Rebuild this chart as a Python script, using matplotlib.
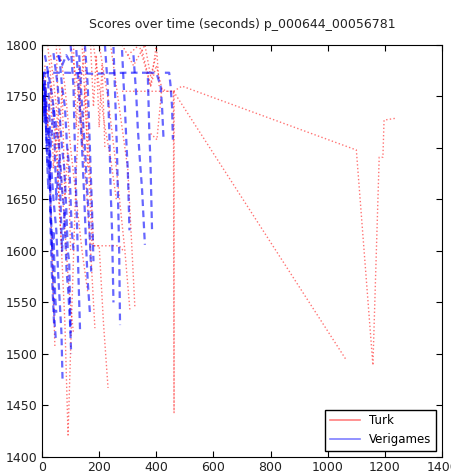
import matplotlib
matplotlib.use("Agg")
import matplotlib.pyplot as plt
from matplotlib.lines import Line2D

title = "Scores over time (seconds) p_000644_00056781"
series_names = ["Turk", "Verigames"]
x_ticks = [0, 200, 400, 600, 800, 1000, 1200, 1400]
y_ticks = [1400, 1450, 1500, 1550, 1600, 1650, 1700, 1750, 1800]

# Verigames sessions (time in seconds, score)
blue_times = [
    [0, 3, 6, 9, 12, 16],
    [0, 6, 10, 16, 22, 26, 30, 34, 38, 42],
    [0, 8, 14, 20, 26, 30, 36, 40, 46, 50],
    [2, 10, 18, 24, 30, 36, 40, 44, 48],
    [0, 20, 30, 40, 50, 56, 62, 68, 72],
    [10, 30, 50, 60, 70, 78, 86, 92, 98, 102],
    [40, 55, 62, 70, 78, 85, 90, 95, 100],
    [60, 70, 80, 88, 96, 104, 110],
    [100, 110, 115, 120, 125, 128, 133],
    [120, 130, 140, 148, 155, 160, 168],
    [130, 140, 150, 158, 166, 172],
    [150, 160, 165, 170, 175, 180],
    [220, 230, 235, 240, 245, 250],
    [250, 256, 262, 266, 270, 273],
    [280, 286, 290, 296, 300, 306],
    [320, 330, 335, 342, 350, 360],
    [0, 90, 180, 290, 370, 375, 380, 385],
    [370, 400, 415, 420, 425],
    [430, 445, 450, 455, 458],
    [55, 70, 85, 95],
    [20, 30, 40, 50, 60, 70, 80],
]
blue_scores = [
    [1773, 1745, 1735, 1725, 1760, 1740],
    [1773, 1730, 1765, 1700, 1660, 1690, 1620, 1580, 1555, 1530],
    [1760, 1773, 1720, 1680, 1700, 1640, 1600, 1620, 1555, 1540],
    [1773, 1740, 1700, 1720, 1640, 1600, 1560, 1530, 1515],
    [1773, 1720, 1690, 1650, 1620, 1580, 1550, 1520, 1472],
    [1790, 1760, 1720, 1700, 1660, 1640, 1580, 1560, 1530, 1500],
    [1792, 1760, 1730, 1700, 1680, 1640, 1600, 1590, 1520],
    [1790, 1760, 1740, 1700, 1680, 1620, 1600],
    [1800, 1760, 1700, 1650, 1600, 1570, 1523],
    [1795, 1750, 1700, 1650, 1600, 1570, 1538],
    [1790, 1740, 1700, 1660, 1620, 1580],
    [1800, 1760, 1720, 1680, 1640, 1590],
    [1800, 1760, 1720, 1660, 1620, 1550],
    [1798, 1750, 1700, 1650, 1600, 1528],
    [1795, 1760, 1740, 1700, 1680, 1620],
    [1790, 1750, 1720, 1690, 1660, 1606],
    [1773, 1773, 1772, 1773, 1773, 1720, 1680, 1620],
    [1773, 1773, 1760, 1740, 1710],
    [1773, 1773, 1760, 1740, 1708],
    [1790, 1780, 1790, 1785],
    [1775, 1700, 1740, 1650, 1690, 1600, 1640],
]

# Turk sessions (time in seconds, score)
red_times = [
    [0, 10, 25, 35, 45],
    [20, 40, 60, 80, 91],
    [91, 105, 120, 135, 150],
    [30, 50, 65, 80, 95, 110],
    [60, 80, 100, 120, 140, 160],
    [100, 130, 150, 170, 185],
    [140, 160, 175, 200, 215, 231],
    [150, 180, 220, 270, 285],
    [180, 200, 220, 240, 260],
    [200, 230, 260, 290, 308],
    [240, 270, 300, 315, 325],
    [280, 320, 360, 380, 400],
    [300, 340, 380, 400, 410],
    [350, 380, 400, 420, 440, 460, 462, 462],
    [460, 1065],
    [280, 400, 460, 490, 1100, 1158, 1180, 1193, 1197, 1242],
    [380, 395, 402, 420],
    [10, 20, 30, 40, 50, 60, 70],
    [50, 60, 70, 80, 90, 100],
    [110, 120, 130, 140, 150, 160],
    [170, 180, 190, 200, 210, 220],
]
red_scores = [
    [1773, 1760, 1700, 1600, 1507],
    [1800, 1740, 1650, 1530, 1421],
    [1421, 1550, 1680, 1760, 1800],
    [1790, 1740, 1680, 1620, 1560, 1520],
    [1800, 1760, 1700, 1650, 1600, 1560],
    [1800, 1750, 1680, 1600, 1525],
    [1800, 1700, 1605, 1605, 1530, 1467],
    [1790, 1605, 1605, 1605, 1600],
    [1800, 1760, 1720, 1690, 1650],
    [1800, 1750, 1680, 1600, 1541],
    [1800, 1740, 1680, 1600, 1545],
    [1800, 1780, 1800, 1770, 1790],
    [1790, 1800, 1760, 1800, 1760],
    [1795, 1760, 1780, 1757, 1755, 1755, 1443, 1755],
    [1755, 1494],
    [1755, 1755, 1755, 1760, 1698, 1489, 1691, 1691, 1727, 1729],
    [1714, 1710, 1708, 1760],
    [1780, 1720, 1760, 1680, 1720, 1640, 1600],
    [1800, 1700, 1760, 1650, 1700, 1600],
    [1800, 1720, 1780, 1700, 1760, 1680],
    [1800, 1740, 1790, 1720, 1780, 1700],
]

fig = plt.figure(figsize=(4.52, 4.73), dpi=100, facecolor="white")
ax = fig.add_axes([0.093, 0.034, 0.885, 0.871])

for t, s in zip(red_times, red_scores):
    ax.plot(t, s, color="red", linestyle=":", linewidth=1.0, alpha=0.55)
for t, s in zip(blue_times, blue_scores):
    ax.plot(t, s, color="blue", linestyle=(0, (3, 2)), linewidth=1.6, alpha=0.6)

ax.set_xlim(0, 1400)
ax.set_ylim(1400, 1800)
ax.set_xticks(x_ticks)
ax.set_yticks(y_ticks)
ax.tick_params(direction="in", top=True, right=True, labelsize=9, length=4, pad=3,
               labelcolor="#222222")
ax.set_title(title, fontsize=9, pad=12, color="#222222")

handles = [Line2D([0], [0], color="red", alpha=0.5, lw=1.2),
           Line2D([0], [0], color="blue", alpha=0.5, lw=1.2)]
leg = ax.legend(handles, series_names, loc="lower right", fontsize=8.5,
                fancybox=False, framealpha=1, edgecolor="black",
                handlelength=2.5, borderaxespad=0.5)
leg.get_frame().set_linewidth(1.0)

fig.savefig("out.png", dpi=100, facecolor="white")
